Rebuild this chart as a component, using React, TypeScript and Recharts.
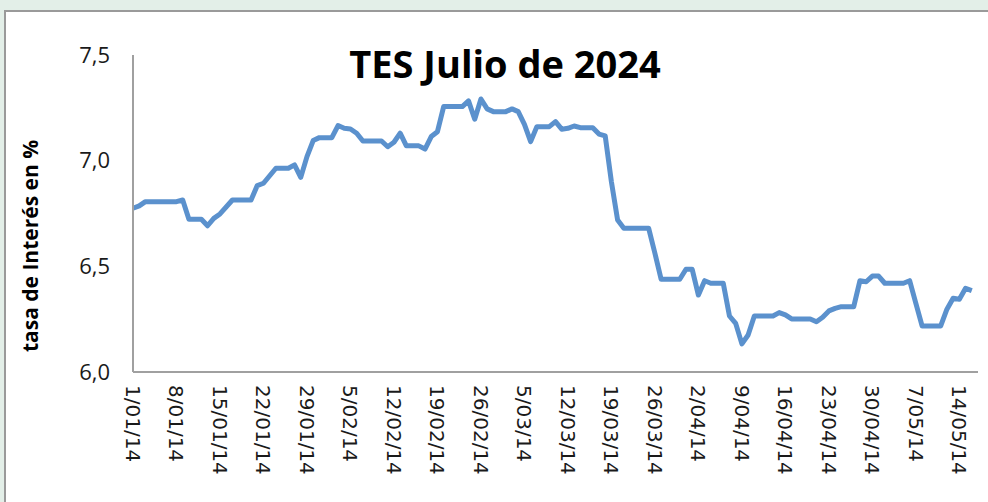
import React from 'react';
import { LineChart, Line, XAxis, YAxis } from 'recharts';

// días desde el 1/01/14 (vértices de la serie diaria)
const dias = [
  0, 1, 2, 7, 8, 9, 11, 12, 13, 14, 16, 19, 20, 21, 23, 25, 26, 27, 28, 29,
  30, 32, 33, 34, 35, 36, 37, 40, 41, 42, 43, 44, 46, 47, 48, 49, 50, 53, 54, 55,
  56, 57, 58, 60, 61, 62, 63, 64, 65, 67, 68, 69, 70, 71, 72, 74, 75, 76, 77, 78,
  79, 83, 84, 85, 88, 89, 90, 91, 92, 93, 95, 96, 97, 98, 99, 100, 103, 104, 105, 106,
  109, 110, 111, 112, 113, 114, 116, 117, 118, 119, 120, 121, 124, 125, 126, 127, 130, 131, 132, 133,
  134, 135,
];

// tasa de interés TES julio 2024 (%)
const tasas = [
  6.775, 6.786, 6.806, 6.806, 6.814, 6.723, 6.723, 6.692, 6.727, 6.748, 6.814, 6.814, 6.882, 6.893, 6.964, 6.964, 6.98, 6.921, 7.019, 7.095,
  7.109, 7.109, 7.166, 7.153, 7.15, 7.13, 7.093, 7.093, 7.066, 7.087, 7.13, 7.07, 7.07, 7.055, 7.114, 7.137, 7.256, 7.256, 7.283, 7.196,
  7.292, 7.245, 7.232, 7.232, 7.245, 7.232, 7.172, 7.09, 7.161, 7.161, 7.185, 7.149, 7.153, 7.164, 7.156, 7.156, 7.126, 7.117, 6.9, 6.719,
  6.68, 6.68, 6.562, 6.439, 6.439, 6.486, 6.486, 6.364, 6.432, 6.42, 6.42, 6.265, 6.23, 6.133, 6.175, 6.265, 6.265, 6.281, 6.27, 6.251,
  6.251, 6.238, 6.259, 6.289, 6.301, 6.309, 6.309, 6.432, 6.427, 6.454, 6.454, 6.42, 6.42, 6.432, 6.325, 6.218, 6.218, 6.297, 6.349, 6.344,
  6.396, 6.385,
];

const ticksX = [0, 7, 14, 21, 28, 35, 42, 49, 56, 63, 70, 77, 84, 91, 98, 105, 112, 119, 126, 133];
const etiquetasX = [
  '1/01/14', '8/01/14', '15/01/14', '22/01/14', '29/01/14', '5/02/14', '12/02/14',
  '19/02/14', '26/02/14', '5/03/14', '12/03/14', '19/03/14', '26/03/14', '2/04/14',
  '9/04/14', '16/04/14', '23/04/14', '30/04/14', '7/05/14', '14/05/14',
];
const ticksY = [6, 6.5, 7, 7.5];

const data = dias.map((d, i) => ({ dia: d, tasa: tasas[i] }));

const EjeX = (props: any) => {
  const { x, y, payload } = props;
  const idx = ticksX.indexOf(payload.value);
  return (
    <text
      x={x}
      y={y}
      transform={`rotate(90 ${x} ${y})`}
      textAnchor="start"
      dominantBaseline="central"
      fontFamily="DejaVu Sans"
      fontSize={20}
      fill="#1a1a1a"
    >
      {etiquetasX[idx]}
    </text>
  );
};

export default function App() {
  return (
    <div style={{ position: 'absolute', left: 0, top: 0, width: 988, height: 502, background: '#e3efe8', overflow: 'hidden' }}>
      <div
        style={{
          position: 'absolute', left: 4, top: 10, width: 1000, height: 520,
          background: '#fff', borderLeft: '2px solid #9a9a9a', borderTop: '2px solid #9a9a9a',
        }}
      />
      <div style={{ position: 'absolute', left: 0, top: 0 }}>
        <LineChart width={988} height={502} data={data} margin={{ top: 55, right: 10, bottom: 100, left: 0 }}>
          <XAxis
            type="number"
            dataKey="dia"
            domain={[0, 136]}
            ticks={ticksX}
            tick={<EjeX />}
            tickLine={false}
            tickSize={0}
            tickMargin={13}
            height={30}
            interval={0}
            axisLine={{ stroke: '#a0a0a0', strokeWidth: 2 }}
          />
          <YAxis
            type="number"
            domain={[6, 7.5]}
            ticks={ticksY}
            width={133}
            tickLine={false}
            tickSize={0}
            tickMargin={23}
            interval={0}
            tickFormatter={(v: number) => v.toFixed(1).replace('.', ',')}
            tick={{ fill: '#1a1a1a', fontSize: 22, fontFamily: 'Open Sans' }}
            axisLine={{ stroke: '#a0a0a0', strokeWidth: 2 }}
          />
          <Line
            type="linear"
            dataKey="tasa"
            stroke="#5b91cd"
            strokeWidth={5}
            strokeLinejoin="round"
            dot={false}
            isAnimationActive={false}
          />
        </LineChart>
      </div>
      <svg width={988} height={502} style={{ position: 'absolute', left: 0, top: 0, pointerEvents: 'none' }}>
        <text x={505} y={78} textAnchor="middle" fontFamily="Open Sans" fontWeight={700} fontSize={38} fill="#000">
          TES Julio de 2024
        </text>
        <text
          x={38}
          y={246}
          transform="rotate(-90 38 246)"
          textAnchor="middle"
          fontFamily="Open Sans"
          fontWeight={700}
          fontSize={21}
          fill="#000"
        >
          tasa de Interés en %
        </text>
      </svg>
    </div>
  );
}
